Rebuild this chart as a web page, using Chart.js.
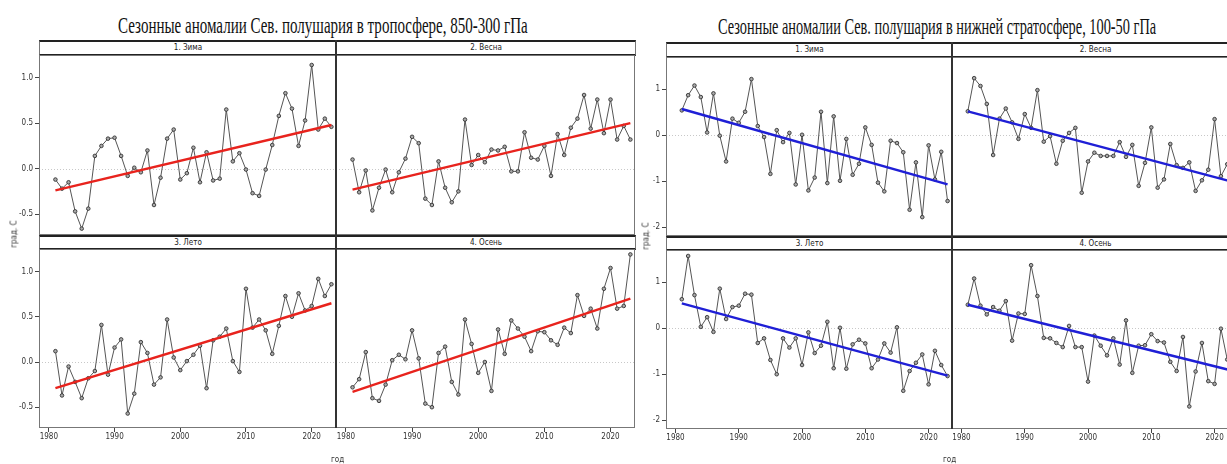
<!DOCTYPE html>
<html>
<head>
<meta charset="utf-8">
<script src="https://cdn.jsdelivr.net/npm/chart.js@4.4.1/dist/chart.umd.min.js"></script>
<style>
  html, body { margin: 0; padding: 0; background: #fff; overflow: hidden; }
  body { width: 1227px; height: 464px; position: relative; }
  canvas { position: absolute; }
  .title { position: absolute; font-family: "Liberation Serif", "Times New Roman", serif; font-size: 24px; color: #111; white-space: nowrap; line-height: 1; }
  .title span { display: inline-block; transform-origin: 0 0; }
  .strip { position: absolute; box-sizing: border-box; border-top: 2px solid #222; border-bottom: 2px solid #222;
           border-left: 1px solid #777; border-right: 1px solid #777; background: #fff;
           font-family: "Liberation Sans Narrow", "DejaVu Sans Condensed", sans-serif; font-size: 8px; color: #222;
           text-align: center; }
  .divider { position: absolute; width: 2px; background: #333; }
  .lab { position: absolute; font-family: "Liberation Sans Narrow", "DejaVu Sans Condensed", sans-serif; font-size: 8px; color: #333; white-space: nowrap; }
  .ylab { transform: translate(-50%, -50%) rotate(-90deg); }
</style>
</head>
<body>
<script>
// years and values
var years = [1981,1982,1983,1984,1985,1986,1987,1988,1989,1990,1991,1992,1993,1994,1995,1996,1997,1998,1999,2000,
             2001,2002,2003,2004,2005,2006,2007,2008,2009,2010,2011,2012,2013,2014,2015,2016,2017,2018,2019,2020,
             2021,2022,2023];
var seasons = ["1. Зима", "2. Весна", "3. Лето", "4. Осень"];

var tropoWinter = [-0.12,-0.22,-0.15,-0.47,-0.66,-0.44,0.14,0.25,0.33,0.34,0.14,-0.08,0.01,-0.04,0.20,-0.40,-0.10,0.33,0.43,-0.12,
                   -0.05,0.23,-0.15,0.18,-0.13,-0.11,0.65,0.08,0.17,-0.01,-0.27,-0.30,-0.01,0.26,0.58,0.83,0.66,0.25,0.53,1.14,
                   0.43,0.55,0.46];
var tropoSpring = [0.10,-0.26,-0.02,-0.46,-0.21,-0.01,-0.26,-0.04,0.11,0.35,0.28,-0.33,-0.40,0.08,-0.21,-0.37,-0.25,0.54,0.04,0.15,
                   0.07,0.21,0.20,0.24,-0.03,-0.03,0.40,0.12,0.10,0.25,-0.08,0.38,0.15,0.45,0.55,0.81,0.44,0.76,0.39,0.76,
                   0.32,0.47,0.32];
var tropoSummer = [0.12,-0.37,-0.05,-0.22,-0.40,-0.18,-0.10,0.41,-0.14,0.16,0.25,-0.57,-0.35,0.22,0.10,-0.25,-0.17,0.47,0.05,-0.09,
                   0.01,0.08,0.18,-0.29,0.24,0.28,0.37,0.01,-0.11,0.81,0.38,0.47,0.35,0.09,0.40,0.73,0.50,0.76,0.57,0.62,
                   0.92,0.73,0.86];
var tropoAutumn = [-0.28,-0.19,0.11,-0.40,-0.43,-0.25,0.02,0.08,0.03,0.35,0.04,-0.46,-0.50,0.10,0.17,-0.22,-0.36,0.47,0.20,-0.12,
                   0.00,-0.32,0.36,0.09,0.46,0.37,0.28,0.12,0.34,0.33,0.24,0.19,0.38,0.32,0.74,0.51,0.59,0.37,0.81,1.04,
                   0.59,0.62,1.19];

var stratWinter = [0.54,0.87,1.08,0.83,0.06,0.91,-0.01,-0.57,0.36,0.27,0.51,1.22,0.20,-0.04,-0.84,0.11,-0.15,0.05,-1.07,0.01,
                   -1.20,-0.92,0.51,-1.04,0.41,-0.99,-0.08,-0.86,-0.62,0.17,-0.21,-1.03,-1.22,-0.12,-0.17,-0.37,-1.62,-0.59,-1.78,-0.22,
                   -0.96,-0.36,-1.43];
var stratSpring = [0.52,1.24,1.07,0.68,-0.43,0.36,0.58,0.28,-0.08,0.46,0.16,0.98,-0.14,-0.02,-0.62,-0.12,0.05,0.16,-1.25,-0.57,
                   -0.38,-0.45,-0.45,-0.45,-0.15,-0.47,-0.21,-1.10,-0.60,0.17,-1.14,-0.96,-0.19,-0.65,-0.71,-0.59,-1.21,-0.98,-0.75,0.35,
                   -0.89,-0.63,-0.95];
var stratSummer = [0.63,1.57,0.72,0.03,0.24,-0.08,0.86,0.20,0.46,0.49,0.75,0.73,-0.32,-0.22,-0.69,-1.00,-0.22,-0.42,-0.22,-0.80,
                   -0.09,-0.54,-0.38,0.14,-0.87,0.01,-0.88,-0.35,-0.25,-0.33,-0.87,-0.68,-0.33,-0.53,0.02,-1.36,-0.93,-0.75,-0.57,-1.22,
                   -0.49,-0.80,-1.04];
var stratAutumn = [0.51,1.08,0.49,0.30,0.46,0.38,0.59,-0.27,0.32,0.31,1.37,0.70,-0.21,-0.22,-0.32,-0.41,0.05,-0.41,-0.41,-1.16,
                   -0.16,-0.38,-0.59,-0.22,-0.79,0.17,-0.97,-0.38,-0.37,-0.13,-0.28,-0.31,-0.73,-0.93,-0.19,-1.70,-0.94,-0.32,-1.15,-1.21,
                   -0.01,-0.68,-0.80];

// linear trend end values (1981, 2023) as drawn
var tropoTrendStart = [-0.24, -0.23, -0.29, -0.33];
var tropoTrendEnd   = [0.48, 0.50, 0.65, 0.70];
var stratTrendStart = [0.57, 0.52, 0.54, 0.51];
var stratTrendEnd   = [-1.07, -1.02, -1.03, -0.93];

var xTicks = [1980, 1990, 2000, 2010, 2020];
var tropoYTicks = [-0.5, 0.0, 0.5, 1.0];
var stratYTicks = [-2, -1, 0, 1];

// ---- layout
var L = 40, B = 16;
var smallFont = '"Liberation Sans Narrow", "DejaVu Sans Condensed", sans-serif';

var figures = [
  { title: "Сезонные аномалии Сев. полушария в тропосфере, 850-300 гПа", titleX: 118, titleW: 410, titleY: 13,
    cols: [[39, 336], [336, 635]], rows: [[40, 55, 235], [235, 249, 428]],
    series: [tropoWinter, tropoSpring, tropoSummer, tropoAutumn], tStart: tropoTrendStart, tEnd: tropoTrendEnd,
    trendColor: '#e8231d', yMin: -0.73, yMax: 1.25, yTicks: tropoYTicks, fmt: function (v) { return v.toFixed(1); },
    ylabX: 14, xlabX: 337 },
  { title: "Сезонные аномалии Сев. полушария в нижней стратосфере, 100-50 гПа", titleX: 718, titleW: 438, titleY: 14,
    cols: [[666, 952], [952, 1238]], rows: [[42, 57, 236], [236, 250, 429]],
    series: [stratWinter, stratSpring, stratSummer, stratAutumn], tStart: stratTrendStart, tEnd: stratTrendEnd,
    trendColor: '#1f1fd6', yMin: -2.19, yMax: 1.70, yTicks: stratYTicks, fmt: function (v) { return String(v); },
    ylabX: 646, xlabX: 949 }
];

var framePlugin = {
  id: 'frame',
  beforeDatasetsDraw: function (chart) {
    var a = chart.chartArea, ctx = chart.ctx, y0 = chart.scales.y.getPixelForValue(0);
    ctx.save();
    ctx.strokeStyle = '#c8c8c8';
    ctx.lineWidth = 1;
    ctx.setLineDash([1, 2]);
    ctx.beginPath();
    ctx.moveTo(a.left, Math.round(y0) + 0.5);
    ctx.lineTo(a.right, Math.round(y0) + 0.5);
    ctx.stroke();
    ctx.restore();
  },
  afterDraw: function (chart) {
    var a = chart.chartArea, ctx = chart.ctx;
    ctx.save();
    ctx.strokeStyle = '#777';
    ctx.lineWidth = 1;
    ctx.strokeRect(a.left + 0.5, a.top + 0.5, a.right - a.left - 1, a.bottom - a.top - 1);
    ctx.restore();
  }
};

function addDiv(cls, css, text) {
  var d = document.createElement('div');
  d.className = cls;
  for (var k in css) d.style[k] = css[k];
  if (text) d.textContent = text;
  document.body.appendChild(d);
  return d;
}

function makePanel(fig, idx) {
  var r = Math.floor(idx / 2), c = idx % 2;
  var col = fig.cols[c], row = fig.rows[r];
  var plotW = col[1] - col[0], plotH = row[2] - row[1];
  var showY = c === 0, showX = r === 1;

  addDiv('strip', { left: col[0] + 'px', top: row[0] + 'px', width: plotW + 1 + 'px', height: (row[1] - row[0] + 1) + 'px',
                    lineHeight: (row[1] - row[0] - 3) + 'px' }, seasons[idx]);

  var cv = document.createElement('canvas');
  cv.width = plotW + L;
  cv.height = plotH + B;
  cv.style.left = (col[0] - L) + 'px';
  cv.style.top = row[1] + 'px';
  document.body.appendChild(cv);

  var vals = fig.series[idx];
  var pts = years.map(function (y, i) { return { x: y, y: vals[i] }; });
  var trend = [{ x: years[0], y: fig.tStart[idx] }, { x: years[years.length - 1], y: fig.tEnd[idx] }];

  new Chart(cv.getContext('2d'), {
    type: 'line',
    data: {
      datasets: [
        { data: pts, borderColor: '#555', borderWidth: 1, pointRadius: 1.8, pointBorderWidth: 0.9,
          pointBorderColor: '#333', pointBackgroundColor: '#aaa', tension: 0, order: 2 },
        { data: trend, borderColor: fig.trendColor, borderWidth: 2.4, pointRadius: 0, tension: 0, order: 1 }
      ]
    },
    options: {
      responsive: false,
      animation: false,
      layout: { padding: 0, autoPadding: false },
      plugins: { legend: { display: false }, tooltip: { enabled: false }, title: { display: false } },
      scales: {
        x: {
          type: 'linear', min: 1978.5, max: 2023.7,
          afterBuildTicks: function (s) { s.ticks = xTicks.map(function (v) { return { value: v }; }); },
          afterFit: function (s) { s.height = B; s.paddingLeft = 0; s.paddingRight = 0; },
          border: { display: false },
          grid: { display: showX, drawOnChartArea: false, drawTicks: true, tickLength: 4, color: '#444' },
          ticks: { display: showX, padding: 0, maxRotation: 0, autoSkip: false, color: '#333',
                   font: { family: smallFont, size: 8 }, callback: function (v) { return String(v); } }
        },
        y: {
          type: 'linear', min: fig.yMin, max: fig.yMax,
          afterBuildTicks: function (s) { s.ticks = fig.yTicks.map(function (v) { return { value: v }; }); },
          afterFit: function (s) { s.width = L; s.paddingTop = 0; s.paddingBottom = 0; },
          border: { display: false },
          grid: { display: showY, drawOnChartArea: false, drawTicks: true, tickLength: 4, color: '#444' },
          ticks: { display: showY, padding: 2, autoSkip: false, color: '#333',
                   font: { family: smallFont, size: 8 }, callback: fig.fmt }
        }
      }
    },
    plugins: [framePlugin]
  });
}

figures.forEach(function (fig) {
  for (var i = 0; i < 4; i++) makePanel(fig, i);
  addDiv('divider', { left: (fig.cols[1][0] - 1) + 'px', top: fig.rows[0][0] + 'px', height: (fig.rows[1][2] - fig.rows[0][0]) + 'px' });

  var t = addDiv('title', { left: fig.titleX + 'px', top: fig.titleY + 'px' });
  var sp = document.createElement('span');
  sp.textContent = fig.title;
  t.appendChild(sp);
  sp.style.transform = 'scaleX(' + (fig.titleW / sp.offsetWidth) + ')';

  var midY = (fig.rows[0][0] + fig.rows[1][2]) / 2;
  addDiv('lab ylab', { left: fig.ylabX + 'px', top: midY + 'px' }, 'град. С');
  addDiv('lab', { left: (fig.xlabX - 6) + 'px', top: '455px' }, 'год');
});
</script>
</body>
</html>
